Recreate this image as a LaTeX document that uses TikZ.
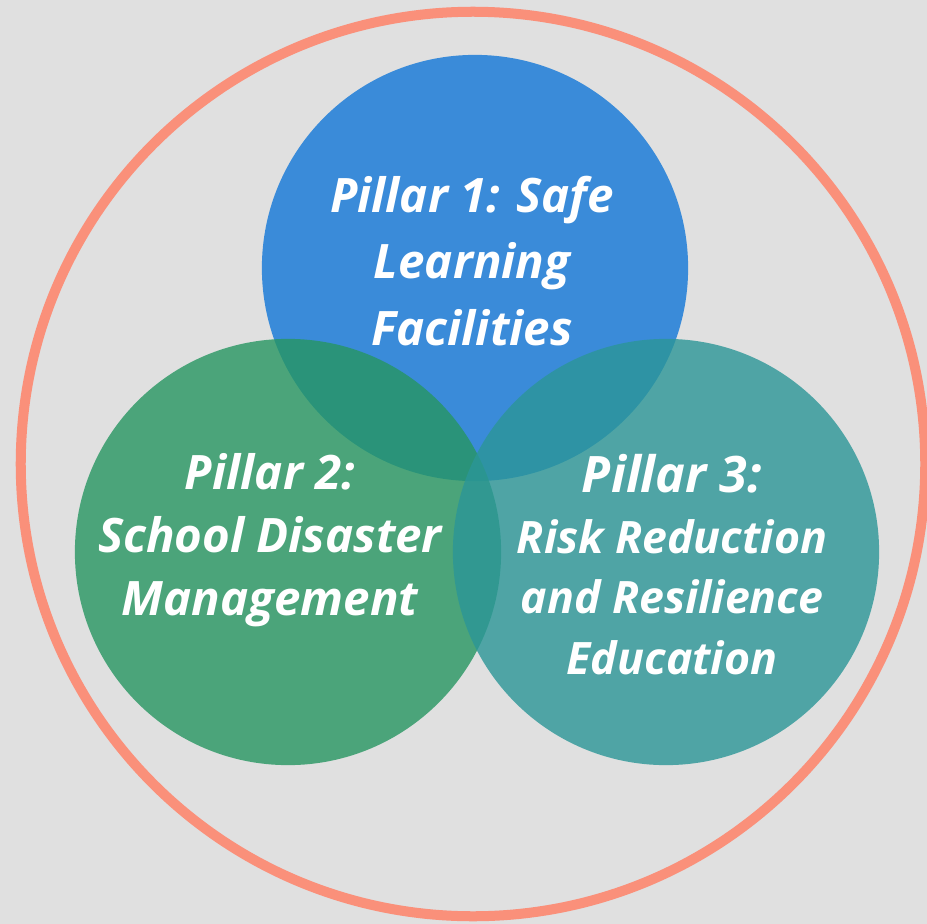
\documentclass[tikz,border=0pt]{standalone}
\usepackage{fontspec}
\setmainfont{Open Sans}
\definecolor{bggray}{HTML}{E0E0E0}
\definecolor{salmon}{HTML}{FA907A}
\definecolor{pblue}{HTML}{3A8BD9}
\definecolor{pgreen}{RGB}{38,150,97}
\definecolor{pteal}{RGB}{43,150,151}
\begin{document}
\begin{tikzpicture}[x=0.01cm,y=-0.01cm,
  pillar/.style={circle,draw=none,minimum size=4.26cm,inner sep=0pt},
  ptext/.style={text=white,align=center,font=\bfseries\itshape\fontsize{13.5}{18.8}\selectfont},
]
\fill[bggray] (0,0) rectangle (927,924);
\useasboundingbox (0,0) rectangle (927,924);
\node[draw=salmon,line width=0.1cm,circle,minimum size=9.04cm,inner sep=0pt] (outer) at (473,464) {};
\node[pillar,fill=pblue] (p1) at (475,268) {};
\node[pillar,fill=pgreen,fill opacity=0.8] (p2) at (288,552) {};
\node[pillar,fill=pteal,fill opacity=0.8] (p3) at (666,552) {};
\node[ptext,anchor=base] (t1) at (472,345) {Pillar 1: Safe\\Learning\\Facilities};
\node[ptext,anchor=base,font=\bfseries\itshape\fontsize{13.5}{17.9}\selectfont] (t2) at (270,615) {Pillar 2:\\School Disaster\\Management};
\node[ptext,anchor=base,font=\bfseries\itshape\fontsize{12.7}{17.2}\selectfont] (t3) at (672,674) {{\fontsize{14.3}{17.2}\selectfont Pillar 3:}\\Risk Reduction\\and Resilience\\Education};
\end{tikzpicture}
\end{document}
